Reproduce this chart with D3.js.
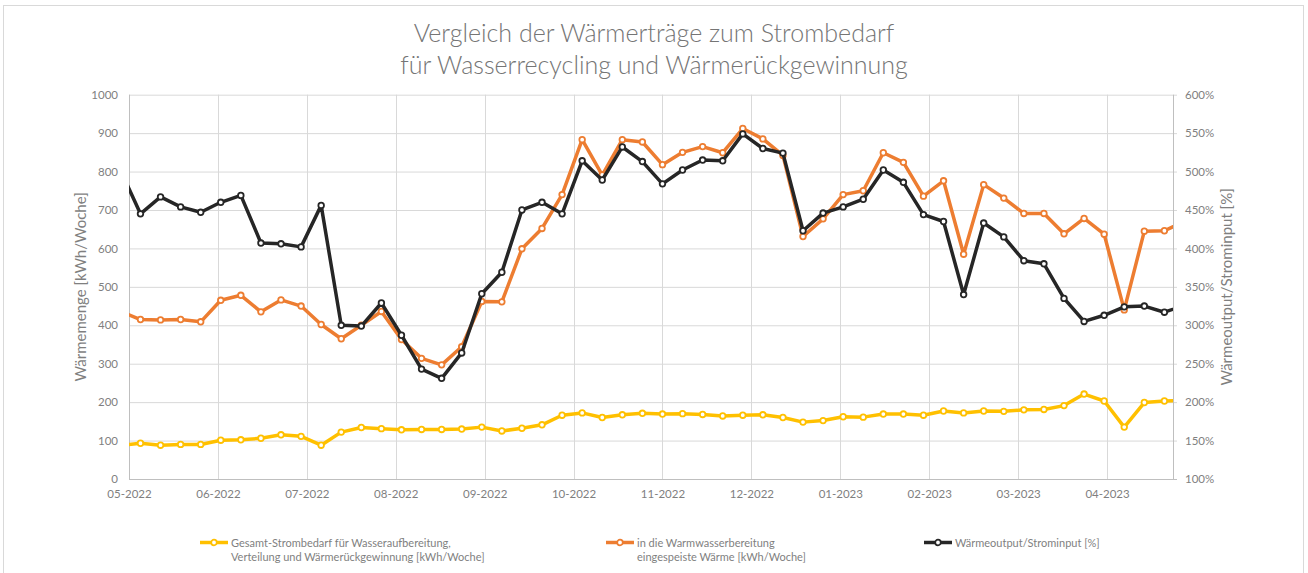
<!DOCTYPE html>
<html>
<head>
<meta charset="utf-8">
<script src="https://cdn.jsdelivr.net/npm/d3@7"></script>
<style>
  body { margin: 0; background: #fff; }
  text { font-family: Lato, "Open Sans", sans-serif; }
</style>
</head>
<body>
<div id="chart"></div>
<script>
// weekly readings (first and last week fall outside the visible axis range and get clipped)
const weeks = [
  "2022-04-28", "2022-05-05", "2022-05-12", "2022-05-19", "2022-05-26",
  "2022-06-02", "2022-06-09", "2022-06-16", "2022-06-23", "2022-06-30",
  "2022-07-07", "2022-07-14", "2022-07-21", "2022-07-28",
  "2022-08-04", "2022-08-11", "2022-08-18", "2022-08-25",
  "2022-09-01", "2022-09-08", "2022-09-15", "2022-09-22", "2022-09-29",
  "2022-10-06", "2022-10-13", "2022-10-20", "2022-10-27",
  "2022-11-03", "2022-11-10", "2022-11-17", "2022-11-24",
  "2022-12-01", "2022-12-08", "2022-12-15", "2022-12-22", "2022-12-29",
  "2023-01-05", "2023-01-12", "2023-01-19", "2023-01-26",
  "2023-02-02", "2023-02-09", "2023-02-16", "2023-02-23",
  "2023-03-02", "2023-03-09", "2023-03-16", "2023-03-23", "2023-03-30",
  "2023-04-06", "2023-04-13", "2023-04-20", "2023-04-27", "2023-05-04"
];

// Gesamt-Strombedarf [kWh/Woche]
const strombedarf = [
  87, 93, 88, 90, 90, 101, 102, 106, 115, 111, 88,
  122, 134, 131, 128, 129, 129, 130, 135, 125, 132,
  141, 166, 172, 160, 167, 171, 169, 170, 168, 164,
  166, 167, 160, 148, 152, 162, 161, 169, 169, 166,
  177, 172, 177, 176, 180, 181, 191, 221, 203, 135,
  199, 203, 205
];

// in die Warmwasserbereitung eingespeiste Wärme [kWh/Woche]
const waerme = [
  436, 415, 414, 415, 409, 465, 478, 435, 466, 450, 402,
  365, 400, 436, 363, 314, 297, 344, 462, 461, 599,
  652, 740, 883, 791, 883, 877, 818, 850, 865, 849,
  912, 885, 842, 631, 677, 740, 750, 849, 824, 736,
  776, 585, 766, 731, 691, 691, 638, 678, 637, 440,
  645, 646, 670
];

// Wärmeoutput/Strominput [%]
const verhaeltnis = [
  502, 445, 467, 454, 447, 460, 469, 407, 406, 402, 456,
  300, 299, 329, 287, 243, 231, 264, 341, 369, 450,
  460, 445, 514, 489, 532, 513, 484, 502, 515, 514,
  549, 530, 524, 423, 446, 454, 464, 502, 486, 444,
  435, 340, 433, 415, 384, 380, 335, 305, 313, 324,
  325, 317, 326
];

// month ticks (axis major unit = 31 days)
const tickDates = [
  "2022-05-01", "2022-06-01", "2022-07-02", "2022-08-02", "2022-09-02", "2022-10-03",
  "2022-11-03", "2022-12-04", "2023-01-04", "2023-02-04", "2023-03-07", "2023-04-07"
];
const leftTicks = [0, 100, 200, 300, 400, 500, 600, 700, 800, 900, 1000];
const rightTicks = [100, 150, 200, 250, 300, 350, 400, 450, 500, 550, 600];

const parse = d3.utcParse("%Y-%m-%d");

const series = [
  { name: ["Gesamt-Strombedarf für Wasseraufbereitung,", "Verteilung und Wärmerückgewinnung [kWh/Woche]"],
    values: strombedarf, axis: "left", color: "#FFC000", legendX: 200 },
  { name: ["in die Warmwasserbereitung", "eingespeiste Wärme [kWh/Woche]"],
    values: waerme, axis: "left", color: "#ED7D31", legendX: 606 },
  { name: ["Wärmeoutput/Strominput [%]"],
    values: verhaeltnis, axis: "right", color: "#262626", legendX: 924 }
];

const width = 1308, height = 573;
const plot = { left: 129, right: 1173, top: 94.7, bottom: 479 };
const textColor = "#7f7f7f";

const svg = d3.select("#chart").append("svg")
  .attr("width", width)
  .attr("height", height);

// outer chart frame
svg.append("rect")
  .attr("x", 3.5).attr("y", 5.5)
  .attr("width", 1300).attr("height", 600)
  .attr("fill", "none")
  .attr("stroke", "#d9d9d9");

const x = d3.scaleUtc()
  .domain([parse("2022-05-01"), parse("2023-04-30")])
  .range([plot.left, plot.right]);

const yLeft = d3.scaleLinear().domain([0, 1000]).range([plot.bottom, plot.top]);
const yRight = d3.scaleLinear().domain([100, 600]).range([plot.bottom, plot.top]);

// title
svg.append("text")
  .attr("x", 654).attr("text-anchor", "middle")
  .attr("fill", "#757575")
  .attr("font-size", "25px")
  .attr("font-weight", 300)
  .selectAll("tspan")
  .data(["Vergleich der Wärmerträge zum Strombedarf", "für Wasserrecycling und Wärmerückgewinnung"])
  .join("tspan")
  .attr("x", 654)
  .attr("y", (d, i) => 42 + i * 32)
  .text(d => d);

// horizontal gridlines
svg.append("g")
  .selectAll("line")
  .data(leftTicks.slice(1))
  .join("line")
  .attr("x1", plot.left).attr("x2", plot.right + 4)
  .attr("y1", d => yLeft(d) + 0.5).attr("y2", d => yLeft(d) + 0.5)
  .attr("stroke", "#d9d9d9");

// vertical gridlines at month ticks
svg.append("g")
  .selectAll("line")
  .data(tickDates.slice(1).map(parse))
  .join("line")
  .attr("x1", d => Math.round(x(d)) + 0.5).attr("x2", d => Math.round(x(d)) + 0.5)
  .attr("y1", plot.top).attr("y2", plot.bottom)
  .attr("stroke", "#d9d9d9");

// bottom axis
const xAxis = svg.append("g")
  .attr("transform", `translate(0,${plot.bottom})`)
  .call(d3.axisBottom(x)
    .tickValues(tickDates.map(parse))
    .tickFormat(d3.utcFormat("%m-%Y"))
    .tickSize(0)
    .tickPadding(11));
xAxis.select(".domain").remove();
xAxis.selectAll("text").attr("fill", textColor).attr("font-size", "11.5px");

svg.append("line")
  .attr("x1", plot.left).attr("x2", plot.right + 4)
  .attr("y1", plot.bottom + 0.5).attr("y2", plot.bottom + 0.5)
  .attr("stroke", "#bfbfbf");

// left axis
const leftAxis = svg.append("g")
  .attr("transform", `translate(${plot.left},0)`)
  .call(d3.axisLeft(yLeft).tickValues(leftTicks).tickFormat(d3.format("d"))
    .tickSize(0).tickPadding(11));
leftAxis.select(".domain").remove();
leftAxis.selectAll("text").attr("fill", textColor).attr("font-size", "11.5px");

svg.append("line")
  .attr("x1", plot.left + 0.5).attr("x2", plot.left + 0.5)
  .attr("y1", plot.top).attr("y2", plot.bottom)
  .attr("stroke", "#bfbfbf");

// right axis
const rightAxis = svg.append("g")
  .attr("transform", `translate(${plot.right},0)`)
  .call(d3.axisRight(yRight).tickValues(rightTicks).tickSize(0).tickPadding(12)
    .tickFormat(d => d + "%"));
rightAxis.select(".domain").remove();
rightAxis.selectAll("text").attr("fill", textColor).attr("font-size", "11.5px");

svg.append("line")
  .attr("x1", plot.right + 0.5).attr("x2", plot.right + 0.5)
  .attr("y1", plot.top).attr("y2", plot.bottom)
  .attr("stroke", "#bfbfbf");

// axis titles
svg.append("text")
  .attr("transform", `translate(86,${(plot.top + plot.bottom) / 2}) rotate(-90)`)
  .attr("text-anchor", "middle")
  .attr("fill", textColor)
  .attr("font-size", "15px")
  .text("Wärmemenge [kWh/Woche]");

svg.append("text")
  .attr("transform", `translate(1232,${(plot.top + plot.bottom) / 2}) rotate(-90)`)
  .attr("text-anchor", "middle")
  .attr("fill", textColor)
  .attr("font-size", "15px")
  .text("Wärmeoutput/Strominput [%]");

// clip to plot area
svg.append("clipPath").attr("id", "plot-clip")
  .append("rect")
  .attr("x", plot.left).attr("y", plot.top - 10)
  .attr("width", plot.right - plot.left).attr("height", plot.bottom - plot.top + 20);

const lines = svg.append("g").attr("clip-path", "url(#plot-clip)");

series.forEach(s => {
  const y = s.axis === "left" ? yLeft : yRight;
  const pts = weeks.map((w, i) => ({ date: parse(w), value: s.values[i] }));

  lines.append("path")
    .datum(pts)
    .attr("fill", "none")
    .attr("stroke", s.color)
    .attr("stroke-width", 3.5)
    .attr("stroke-linejoin", "round")
    .attr("d", d3.line().x(d => x(d.date)).y(d => y(d.value)));

  lines.append("g")
    .selectAll("circle")
    .data(pts)
    .join("circle")
    .attr("cx", d => x(d.date))
    .attr("cy", d => y(d.value))
    .attr("r", 2.8)
    .attr("fill", "#fff")
    .attr("stroke", s.color)
    .attr("stroke-width", 1.8);
});

// legend
const legend = svg.append("g");
series.forEach(s => {
  const g = legend.append("g").attr("transform", `translate(${s.legendX},542.5)`);
  g.append("line")
    .attr("x1", 0).attr("x2", 28)
    .attr("stroke", s.color).attr("stroke-width", 3.5);
  g.append("circle")
    .attr("cx", 14).attr("r", 2.8)
    .attr("fill", "#fff").attr("stroke", s.color).attr("stroke-width", 1.8);
  g.append("text")
    .attr("fill", textColor)
    .attr("font-size", "11px")
    .selectAll("tspan")
    .data(s.name)
    .join("tspan")
    .attr("x", 31)
    .attr("y", (d, i) => 4 + i * 14.5)
    .text(d => d);
});
</script>
</body>
</html>
